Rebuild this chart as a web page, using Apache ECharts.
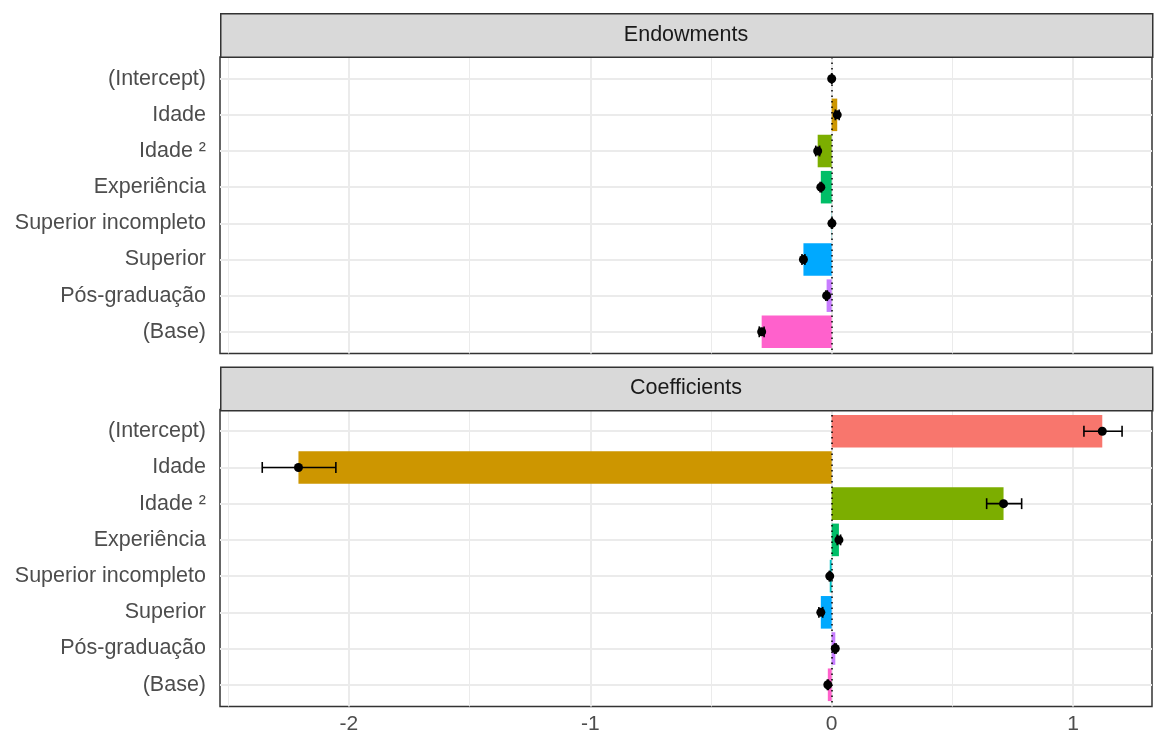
<!DOCTYPE html>
<html>
<head>
<meta charset="utf-8">
<title>Decomposição: Endowments e Coefficients</title>
<script src="https://cdn.jsdelivr.net/npm/echarts@6/dist/echarts.min.js"></script>
<style>
  html, body { margin: 0; padding: 0; background: #ffffff; }
  #chart { width: 1154px; height: 739px; }
</style>
</head>
<body>
<div id="chart"></div>
<script>
// Terms of the decomposition, top to bottom
const CATEGORIES = ['(Intercept)', 'Idade', 'Idade ²', 'Experiência', 'Superior incompleto', 'Superior', 'Pós-graduação', '(Base)'];
const TERM_COLORS = ['#F8766D', '#CD9600', '#7CAE00', '#00BE67', '#00BFC4', '#00A9FF', '#C77CFF', '#FF61CC'];
const PANELS = ['Endowments', 'Coefficients'];

// Endowments: estimate and confidence bounds per term
const ENDOW_EST = [0.000, 0.023, -0.058, -0.045, 0.001, -0.117, -0.021, -0.290];
const ENDOW_LO  = [0.000, 0.015, -0.066, -0.048, -0.001, -0.123, -0.024, -0.300];
const ENDOW_HI  = [0.000, 0.031, -0.050, -0.042, 0.003, -0.111, -0.018, -0.280];

// Coefficients: estimate and confidence bounds per term
const COEF_EST = [1.121, -2.209, 0.712, 0.030, -0.008, -0.045, 0.015, -0.016];
const COEF_LO  = [1.045, -2.359, 0.642, 0.023, -0.010, -0.053, 0.012, -0.018];
const COEF_HI  = [1.203, -2.054, 0.787, 0.037, -0.006, -0.037, 0.018, -0.014];

// Axis ticks
const X_TICKS = [-2, -1, 0, 1];
const X_MINOR = [-2.5, -1.5, -0.5, 0.5];
const X_MIN = -2.534, X_MAX = 1.327;

const FONT = "'Liberation Sans', Arial, Helvetica, sans-serif";
const LABEL_SIZE = 21.5;
const BAR_WIDTH = 0.9;   // in category units
const CAP_WIDTH = 0.3;

const PANEL_LAYOUT = [
  { stripTop: 13, top: 57, height: 296.5 },
  { stripTop: 366.5, top: 409.5, height: 297 }
];
const LEFT = 220, RIGHT = 2, STRIP_H = 43.5;

const chart = echarts.init(document.getElementById('chart'), null, { renderer: 'canvas' });

const rowIdx = CATEGORIES.map((_, i) => i);

function renderBar(params, api) {
  const v = api.value(0), y = api.value(1);
  const a = api.coord([0, y]);
  const b = api.coord([v, y]);
  const h = api.size([0, BAR_WIDTH])[1];
  return {
    type: 'rect',
    shape: { x: Math.min(a[0], b[0]), y: a[1] - h / 2, width: Math.abs(b[0] - a[0]), height: h },
    style: { fill: TERM_COLORS[params.dataIndex] }
  };
}

function renderErr(params, api) {
  const lo = api.value(0), hi = api.value(1), y = api.value(2);
  const p0 = api.coord([lo, y]);
  const p1 = api.coord([hi, y]);
  const h = api.size([0, CAP_WIDTH])[1];
  const st = { stroke: '#000', lineWidth: 1.6 };
  return {
    type: 'group',
    children: [
      { type: 'line', shape: { x1: p0[0], y1: p0[1], x2: p1[0], y2: p1[1] }, style: st },
      { type: 'line', shape: { x1: p0[0], y1: p0[1] - h / 2, x2: p0[0], y2: p0[1] + h / 2 }, style: st },
      { type: 'line', shape: { x1: p1[0], y1: p1[1] - h / 2, x2: p1[0], y2: p1[1] + h / 2 }, style: st }
    ]
  };
}

const gridLineData = [
  ...X_MINOR.map(v => ({ xAxis: v, lineStyle: { color: '#EBEBEB', width: 1, type: 'solid' } })),
  ...X_TICKS.map(v => ({ xAxis: v, lineStyle: { color: '#EBEBEB', width: 2, type: 'solid' } })),
  ...rowIdx.map(v => ({ yAxis: v, lineStyle: { color: '#EBEBEB', width: 2, type: 'solid' } }))
];

const grids = [], xAxes = [], yAxes = [], series = [], graphics = [];

PANELS.forEach((name, p) => {
  const L = PANEL_LAYOUT[p];
  const est = p === 0 ? ENDOW_EST : COEF_EST;
  const lo = p === 0 ? ENDOW_LO : COEF_LO;
  const hi = p === 0 ? ENDOW_HI : COEF_HI;
  const isBottom = p === PANELS.length - 1;

  grids.push({
    left: LEFT, right: RIGHT, top: L.top, height: L.height,
    show: true, backgroundColor: '#ffffff', borderColor: '#333333', borderWidth: 1.5,
    containLabel: false
  });

  xAxes.push({
    gridIndex: p, type: 'value', min: X_MIN, max: X_MAX,
    axisLine: { show: false },
    splitLine: { show: false },
    axisTick: { show: isBottom, customValues: X_TICKS, length: 5, lineStyle: { color: '#333333', width: 1.5 } },
    axisLabel: {
      show: isBottom, customValues: X_TICKS, margin: 7,
      color: '#4D4D4D', fontFamily: FONT, fontSize: 21,
      formatter: v => String(v)
    }
  });

  yAxes.push({
    gridIndex: p, type: 'value', min: -0.6, max: 7.6, inverse: true,
    axisLine: { show: false },
    splitLine: { show: false },
    axisTick: { show: true, customValues: rowIdx, length: 5, lineStyle: { color: '#333333', width: 1.5 } },
    axisLabel: {
      show: true, customValues: rowIdx, margin: 14,
      color: '#4D4D4D', fontFamily: FONT, fontSize: LABEL_SIZE,
      formatter: v => CATEGORIES[Math.round(v)] || ''
    }
  });

  // panel grid lines, beneath the bars
  series.push({
    type: 'scatter', xAxisIndex: p, yAxisIndex: p, data: [], z: 1, silent: true,
    markLine: { z: 1, silent: true, symbol: ['none', 'none'], label: { show: false }, animation: false, data: gridLineData }
  });

  // bars
  series.push({
    type: 'custom', xAxisIndex: p, yAxisIndex: p, z: 2, silent: true,
    renderItem: renderBar,
    encode: { x: 0, y: 1 },
    data: est.map((v, i) => [v, i])
  });

  // dotted reference line at zero
  series.push({
    type: 'scatter', xAxisIndex: p, yAxisIndex: p, data: [], z: 3, silent: true,
    markLine: {
      z: 3, silent: true, symbol: ['none', 'none'], label: { show: false }, animation: false,
      data: [{ xAxis: 0, lineStyle: { color: '#000000', width: 1.5, type: [1.5, 4] } }]
    }
  });

  // confidence intervals
  series.push({
    type: 'custom', xAxisIndex: p, yAxisIndex: p, z: 4, silent: true,
    renderItem: renderErr,
    encode: { x: [0, 1], y: 2 },
    data: lo.map((v, i) => [v, hi[i], i])
  });

  // point estimates
  series.push({
    type: 'scatter', xAxisIndex: p, yAxisIndex: p, z: 5, silent: true,
    symbol: 'circle', symbolSize: 9,
    itemStyle: { color: '#000000', opacity: 1 },
    data: est.map((v, i) => [v, i])
  });

  // facet strip
  graphics.push({
    type: 'rect', left: LEFT, top: L.stripTop, silent: true, z: 10,
    shape: { width: 1154 - LEFT - RIGHT, height: STRIP_H },
    style: { fill: '#D9D9D9', stroke: '#333333', lineWidth: 1.5 }
  });
  graphics.push({
    type: 'text', silent: true, z: 11,
    x: LEFT + (1154 - LEFT - RIGHT) / 2, y: L.stripTop + STRIP_H / 2,
    style: { text: name, fill: '#1A1A1A', font: LABEL_SIZE + 'px ' + FONT, align: 'center', verticalAlign: 'middle' }
  });
});

chart.setOption({
  animation: false,
  backgroundColor: '#ffffff',
  grid: grids,
  xAxis: xAxes,
  yAxis: yAxes,
  series: series,
  graphic: graphics
});
</script>
</body>
</html>
